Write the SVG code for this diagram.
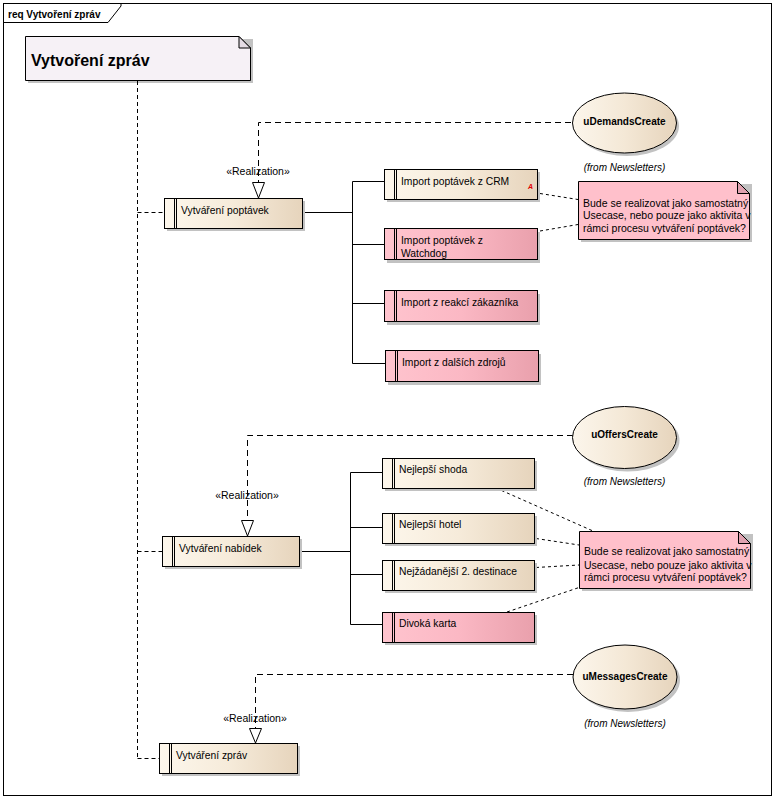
<svg xmlns="http://www.w3.org/2000/svg" width="775" height="799" viewBox="0 0 775 799">
<defs>
<linearGradient id="gBeige" x1="0" y1="0" x2="1" y2="0">
<stop offset="0" stop-color="#FDF7EC"/>
<stop offset="0.5" stop-color="#F6EBDA"/>
<stop offset="1" stop-color="#E6D4BC"/>
</linearGradient>
<linearGradient id="gPink" x1="0" y1="0" x2="1" y2="0">
<stop offset="0" stop-color="#FFC4CE"/>
<stop offset="0.5" stop-color="#FBB8C4"/>
<stop offset="1" stop-color="#E9A0AC"/>
</linearGradient>
<linearGradient id="gEll" x1="0" y1="0" x2="1" y2="0">
<stop offset="0" stop-color="#FCF6EC"/>
<stop offset="0.5" stop-color="#F4E8D6"/>
<stop offset="1" stop-color="#E6D4BC"/>
</linearGradient>
</defs>
<style>
.frame{fill:#fff;stroke:#000;stroke-width:1}
.box{stroke:#000;stroke-width:1}
.beige{fill:url(#gBeige)}
.pink{fill:url(#gPink)}
.ell{fill:url(#gEll);stroke:#000;stroke-width:1}
.sh{fill:#C2C2C2}
.bar{stroke:#000;stroke-width:1;fill:none}
.t{font-family:"Liberation Sans",Arial,sans-serif;font-size:10.3px;fill:#000}
.nt{font-family:"Liberation Sans",Arial,sans-serif;font-size:10.5px;fill:#000}
.eb{font-family:"Liberation Sans",Arial,sans-serif;font-size:10px;font-weight:bold;fill:#000;text-anchor:middle}
.fr{font-family:"Liberation Sans",Arial,sans-serif;font-size:10px;font-style:italic;fill:#000;text-anchor:middle}
.st{font-family:"Liberation Sans",Arial,sans-serif;font-size:10.5px;fill:#000;text-anchor:middle}
.trace{fill:none;stroke:#000;stroke-width:1;stroke-dasharray:4,3}
.real{fill:none;stroke:#000;stroke-width:1;stroke-dasharray:6,4}
.nlink{fill:none;stroke:#000;stroke-width:1;stroke-dasharray:3,3}
.solid{fill:none;stroke:#000;stroke-width:1}
.head{fill:#fff;stroke:#000;stroke-width:1}
.note{fill:#FFC0CB;stroke:#000;stroke-width:1}
.fold{fill:#E0A2B0;stroke:#000;stroke-width:1}
</style>

<g id="frame">
<rect class="frame" x="3.5" y="3.5" width="768" height="792"/>
<polyline class="solid" points="3.5,22.5 108,22.5 121,6 121,3.5"/>
<text x="8" y="18" font-family="Liberation Sans, Arial, sans-serif" font-size="10px" font-weight="bold">req Vytvoření zpráv</text>
</g>

<g id="title">
<path class="sh" d="M28,39 H253 V83 H28 Z"/>
<path d="M25.5,36.5 H239 L250.5,48 V80.5 H25.5 Z" fill="#F6F1F6" stroke="#000" stroke-width="1"/>
<path d="M239,36.5 V48 H250.5 Z" fill="#E4DCE4" stroke="#000" stroke-width="1"/>
<text x="31" y="66" font-family="Liberation Sans, Arial, sans-serif" font-size="16px" font-weight="bold">Vytvoření zpráv</text>
</g>

<g id="connectors">
<path class="trace" d="M137.5,81 V758.5"/>
<path class="trace" d="M137.5,212.5 H164"/>
<path class="trace" d="M137.5,551.5 H162"/>
<path class="trace" d="M137.5,758.5 H159"/>

<path class="real" d="M571,122.5 H258.5 V182"/>
<polygon class="head" points="252.5,182.5 264.5,182.5 258.5,198"/>
<text class="st" x="258" y="175">«Realization»</text>

<path class="real" d="M573,435.5 H247.5 V520"/>
<polygon class="head" points="241.5,520.5 253.5,520.5 247.5,536"/>
<text class="st" x="247" y="499">«Realization»</text>

<path class="real" d="M573,674.5 H255.5 V728"/>
<polygon class="head" points="249.5,728.5 261.5,728.5 255.5,743"/>
<text class="st" x="255" y="722">«Realization»</text>

<path class="solid" d="M302,212.5 H352.5 M352.5,181.5 V363.5 M352.5,181.5 H384 M352.5,244.5 H384 M352.5,303.5 H384 M352.5,363.5 H385"/>
<path class="solid" d="M299,551.5 H350.5 M350.5,472.5 V624.5 M350.5,472.5 H382 M350.5,527.5 H382 M350.5,574.5 H382 M350.5,624.5 H382"/>

<path class="nlink" d="M540,193.5 L578,199.5"/>
<path class="nlink" d="M540,231 L578,224.5"/>
<path class="nlink" d="M496,488 L593,531"/>
<path class="nlink" d="M536,538.5 L579,545"/>
<path class="nlink" d="M536,567.5 L579,565"/>
<path class="nlink" d="M507,612 L579,587.5"/>
</g>

<g id="uDemandsCreate">
<ellipse class="sh" cx="627" cy="126" rx="52" ry="30"/>
<ellipse class="ell" cx="624.5" cy="123" rx="52" ry="30"/>
<text class="eb" x="624.5" y="124.5">uDemandsCreate</text>
<text class="fr" x="624.5" y="170.5">(from Newsletters)</text>
</g>

<g id="uOffersCreate">
<ellipse class="sh" cx="627.5" cy="440.5" rx="52" ry="31"/>
<ellipse class="ell" cx="624.5" cy="437.5" rx="52" ry="31"/>
<text class="eb" x="624.5" y="438">uOffersCreate</text>
<text class="fr" x="624.5" y="484.5">(from Newsletters)</text>
</g>

<g id="uMessagesCreate">
<ellipse class="sh" cx="628" cy="680" rx="52" ry="32"/>
<ellipse class="ell" cx="625" cy="677" rx="52" ry="32"/>
<text class="eb" x="625" y="680">uMessagesCreate</text>
<text class="fr" x="625" y="727">(from Newsletters)</text>
</g>

<g id="vytvareni-poptavek">
<rect class="sh" x="167" y="201" width="138" height="30"/>
<rect class="box beige" x="164.5" y="198.5" width="138" height="30"/>
<path class="bar" d="M174.5,198.5 V228.5 M176.5,198.5 V228.5"/>
<text class="t" x="181" y="213.5">Vytváření poptávek</text>
</g>

<g id="import-crm">
<rect class="sh" x="387" y="172" width="153" height="30"/>
<rect class="box beige" x="384.5" y="169.5" width="153" height="30"/>
<path class="bar" d="M394.5,169.5 V199.5 M396.5,169.5 V199.5"/>
<text class="t" x="401" y="185">Import poptávek z CRM</text>
<text x="528" y="189" font-family="Liberation Sans, Arial, sans-serif" font-size="7px" font-weight="bold" font-style="italic" fill="#E00000">A</text>
</g>

<g id="import-watchdog">
<rect class="sh" x="387" y="232" width="153" height="31"/>
<rect class="box pink" x="384.5" y="228.5" width="153" height="31"/>
<path class="bar" d="M394.5,228.5 V259.5 M396.5,228.5 V259.5"/>
<text class="t" x="401" y="244">Import poptávek z</text>
<text class="t" x="401" y="256.5">Watchdog</text>
</g>

<g id="import-reakci">
<rect class="sh" x="387" y="294" width="153" height="31"/>
<rect class="box pink" x="384.5" y="290.5" width="153" height="31"/>
<path class="bar" d="M394.5,290.5 V321.5 M396.5,290.5 V321.5"/>
<text class="t" x="401" y="305.5">Import z reakcí zákazníka</text>
</g>

<g id="import-dalsich">
<rect class="sh" x="388" y="354" width="153" height="31"/>
<rect class="box pink" x="385.5" y="350.5" width="153" height="31"/>
<path class="bar" d="M395.5,350.5 V381.5 M397.5,350.5 V381.5"/>
<text class="t" x="402" y="366">Import z dalších zdrojů</text>
</g>

<g id="note-1">
<path class="sh" d="M581,184 H752 V242 H581 Z"/>
<path class="note" d="M578.5,181.5 H737.5 L749.5,193.5 V239.5 H578.5 Z"/>
<path class="fold" d="M737.5,181.5 V193.5 H749.5 Z"/>
<text class="nt" x="583" y="206.5">Bude se realizovat jako samostatný</text>
<text class="nt" x="583" y="219">Usecase, nebo pouze jako aktivita v</text>
<text class="nt" x="583" y="231.5">rámci procesu vytváření poptávek?</text>
</g>

<g id="vytvareni-nabidek">
<rect class="sh" x="165" y="539" width="137" height="30"/>
<rect class="box beige" x="162.5" y="536.5" width="137" height="30"/>
<path class="bar" d="M172.5,536.5 V566.5 M174.5,536.5 V566.5"/>
<text class="t" x="179" y="551.5">Vytváření nabídek</text>
</g>

<g id="nejlepsi-shoda">
<rect class="sh" x="385" y="461" width="152" height="30"/>
<rect class="box beige" x="382.5" y="458.5" width="152" height="30"/>
<path class="bar" d="M392.5,458.5 V488.5 M394.5,458.5 V488.5"/>
<text class="t" x="399" y="473">Nejlepší shoda</text>
</g>

<g id="nejlepsi-hotel">
<rect class="sh" x="385" y="516" width="152" height="30"/>
<rect class="box beige" x="382.5" y="513.5" width="152" height="30"/>
<path class="bar" d="M392.5,513.5 V543.5 M394.5,513.5 V543.5"/>
<text class="t" x="399" y="528">Nejlepší hotel</text>
</g>

<g id="nejzadanejsi">
<rect class="sh" x="385" y="563" width="152" height="30"/>
<rect class="box beige" x="382.5" y="560.5" width="152" height="30"/>
<path class="bar" d="M392.5,560.5 V590.5 M394.5,560.5 V590.5"/>
<text class="t" x="399" y="575">Nejžádanější 2. destinace</text>
</g>

<g id="divoka-karta">
<rect class="sh" x="385" y="615" width="152" height="30"/>
<rect class="box pink" x="382.5" y="612.5" width="152" height="30"/>
<path class="bar" d="M392.5,612.5 V642.5 M394.5,612.5 V642.5"/>
<text class="t" x="399" y="627">Divoká karta</text>
</g>

<g id="note-2">
<path class="sh" d="M582,534 H753 V591 H582 Z"/>
<path class="note" d="M579.5,531.5 H738.5 L750.5,543.5 V588.5 H579.5 Z"/>
<path class="fold" d="M738.5,531.5 V543.5 H750.5 Z"/>
<text class="nt" x="584" y="555">Bude se realizovat jako samostatný</text>
<text class="nt" x="584" y="568.5">Usecase, nebo pouze jako aktivita v</text>
<text class="nt" x="584" y="581">rámci procesu vytváření poptávek?</text>
</g>

<g id="vytvareni-zprav">
<rect class="sh" x="162" y="746" width="138" height="30"/>
<rect class="box beige" x="159.5" y="743.5" width="138" height="30"/>
<path class="bar" d="M169.5,743.5 V773.5 M171.5,743.5 V773.5"/>
<text class="t" x="176" y="758.5">Vytváření zpráv</text>
</g>
</svg>
